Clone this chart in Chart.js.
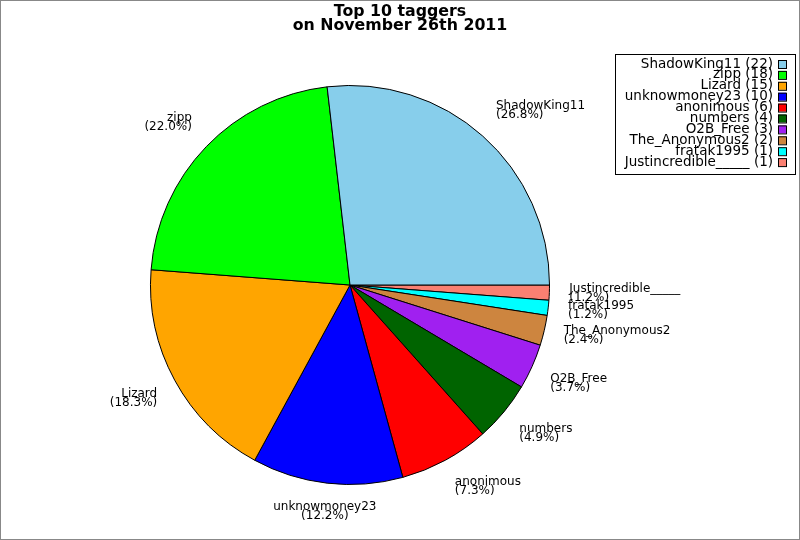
<!DOCTYPE html>
<html lang="en">
<head>
    <meta charset="UTF-8">
    <title>Top 10 taggers</title>
    <script src="https://cdn.jsdelivr.net/npm/chart.js"></script>
    <style>
        body { margin: 0; background: #fff; }
        canvas { display: block; }
    </style>
</head>
<body>
    <canvas id="pieChart" width="800" height="540"></canvas>
    <script>
// data
const taggers = ['ShadowKing11', 'zipp', 'Lizard', 'unknowmoney23', 'anonimous',
                 'numbers', 'O2B_Free', 'The_Anonymous2', 'fratak1995', 'Justincredible_____'];
const tagCounts = [22, 18, 15, 10, 6, 4, 3, 2, 1, 1];
const sliceColors = ['#87ceeb', '#00ff00', '#ffa500', '#0000ff', '#ff0000',
                     '#006400', '#a020f0', '#cd853f', '#00ffff', '#fa8072'];
const titleLines = ['Top 10 taggers', 'on November 26th 2011'];

const total = tagCounts.reduce((a, b) => a + b, 0);

// the original goes counter-clockwise from 3 o'clock, Chart.js goes clockwise,
// so feed the slices in reverse order
const rev = arr => arr.slice().reverse();

// title, legend, slice labels and frame
const decorations = {
    id: 'decorations',
    afterDraw(chart) {
        const ctx = chart.ctx;
        ctx.save();

        // frame
        ctx.strokeStyle = '#888';
        ctx.lineWidth = 1;
        ctx.strokeRect(0.5, 0.5, chart.width - 1, chart.height - 1);

        // title
        ctx.fillStyle = '#000';
        ctx.font = 'bold 15.8px "DejaVu Sans"';
        ctx.textAlign = 'center';
        ctx.textBaseline = 'alphabetic';
        ctx.fillText(titleLines[0], 400, 16);
        ctx.fillText(titleLines[1], 400, 30);

        // legend
        ctx.strokeStyle = '#000';
        ctx.strokeRect(615.5, 54.5, 180, 120);
        ctx.font = '13.5px "DejaVu Sans"';
        ctx.textAlign = 'right';
        ctx.textBaseline = 'middle';
        taggers.forEach((name, i) => {
            const y = 64 + i * 10.9;
            ctx.fillStyle = '#000';
            ctx.fillText(name + ' (' + tagCounts[i] + ')', 773, y);
            ctx.fillStyle = sliceColors[i];
            ctx.fillRect(778, y - 4, 8, 8);
            ctx.strokeRect(778.5, y - 3.5, 8, 8);
        });

        // slice labels: left/right/centre and top/bottom/middle by octant
        const meta = chart.getDatasetMeta(0);
        ctx.font = '12px "DejaVu Sans"';
        ctx.textAlign = 'left';
        ctx.textBaseline = 'middle';
        ctx.fillStyle = '#000';
        meta.data.forEach((arc, j) => {
            const i = taggers.length - 1 - j;
            const mid = (arc.startAngle + arc.endAngle) / 2;
            const c = Math.cos(mid), s = Math.sin(mid);
            const r = arc.outerRadius * 1.1;
            const ax = arc.x + c * r, ay = arc.y + s * r;
            const lines = [taggers[i], '(' + (tagCounts[i] / total * 100).toFixed(1) + '%)'];
            const hx = c > 0.3 ? 0 : (c < -0.3 ? 1 : 0.5);
            const y0 = s < -0.3 ? ay - 15 : (s > 0.3 ? ay + 4 : ay - 4.5);
            lines.forEach((txt, k) => {
                const w = ctx.measureText(txt).width;
                ctx.fillText(txt, ax - w * hx, y0 + k * 9);
            });
        });

        ctx.restore();
    }
};

new Chart(document.getElementById('pieChart'), {
    type: 'pie',
    data: {
        labels: rev(taggers),
        datasets: [{
            data: rev(tagCounts),
            backgroundColor: rev(sliceColors),
            borderColor: '#000',
            borderWidth: 1
        }]
    },
    options: {
        responsive: false,
        animation: false,
        devicePixelRatio: 1,
        rotation: 90,
        layout: { padding: { left: 150, right: 250, top: 85, bottom: 55 } },
        plugins: {
            legend: { display: false },
            title: { display: false },
            tooltip: { enabled: false }
        }
    },
    plugins: [decorations]
});
    </script>
</body>
</html>
